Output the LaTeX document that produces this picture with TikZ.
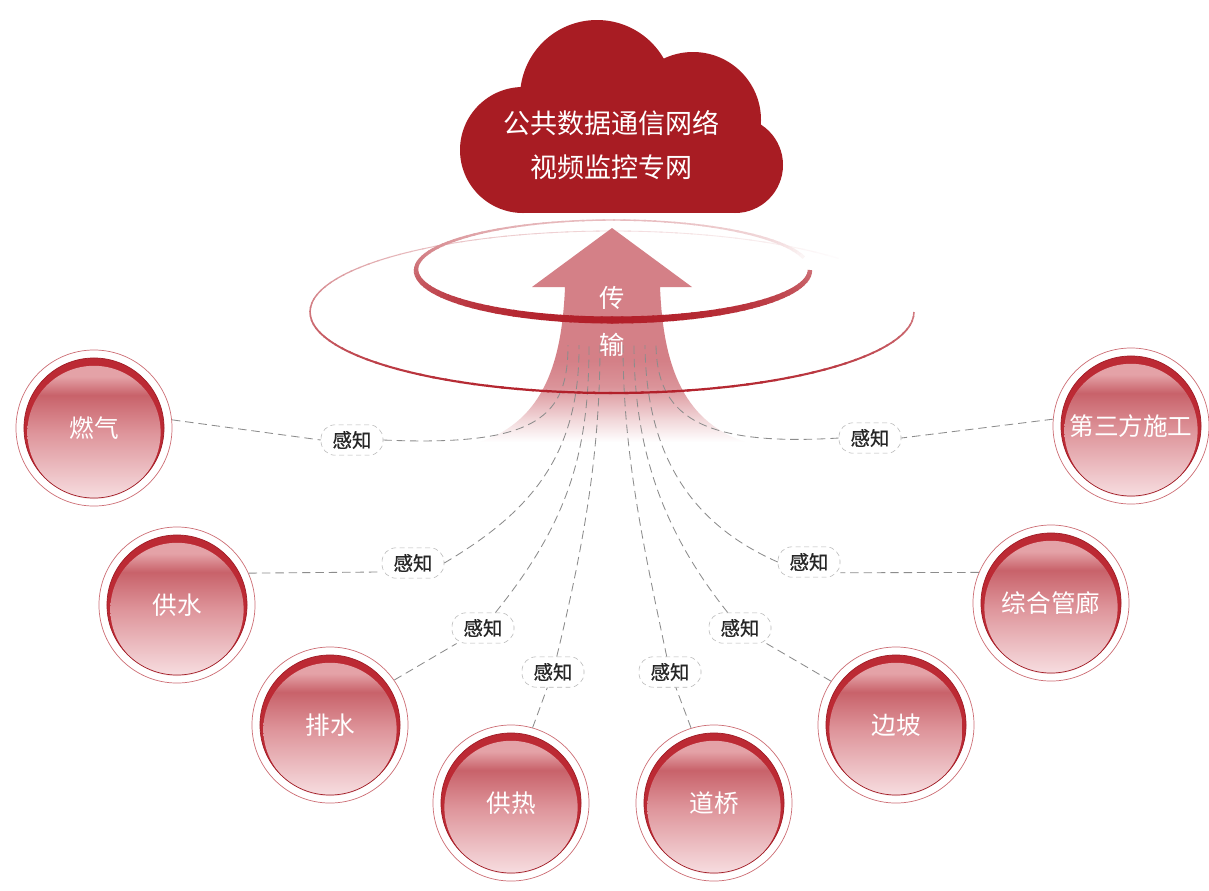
\documentclass[tikz,border=0pt]{standalone}
\usepackage{fontspec}
\setmainfont{Noto Sans CJK SC}
\newfontfamily\sensefont{Noto Sans CJK SC}[FakeBold=0.8]
\usepackage{xcolor}
\usetikzlibrary{calc}

\definecolor{cloudred}{RGB}{168,28,35}
\definecolor{ringred}{RGB}{178,32,42}
\definecolor{arrowpink}{RGB}{212,128,135}
\definecolor{discred}{RGB}{188,42,52}
\definecolor{faceT}{RGB}{200,98,106}
\definecolor{faceH}{RGB}{228,162,167}
\definecolor{faceM}{RGB}{222,148,154}
\definecolor{faceB}{RGB}{247,222,225}

\pgfdeclareverticalshading{arrowfade}{100bp}{color(0bp)=(white); color(25bp)=(white); color(30bp)=(arrowpink!30!white); color(38bp)=(arrowpink!85!white); color(44bp)=(arrowpink); color(100bp)=(arrowpink)}
\pgfdeclareverticalshading{discface}{100bp}{color(0bp)=(faceB); color(25bp)=(faceB); color(50bp)=(faceM); color(64bp)=(faceT); color(71bp)=(faceH); color(75bp)=(faceH); color(100bp)=(faceH)}

\begin{document}
\begin{tikzpicture}[x=0.025cm,y=-0.025cm,
    bubble/.style={circle,minimum size=3.9cm,inner sep=0pt,fill=white,
        draw=ringred!65,line width=0.5pt,text=white,
        font=\fontsize{17.5}{18}\selectfont,
        path picture={
            \fill[discred] (path picture bounding box.center) circle (1.75cm);
            \shade[shading=discface] ([yshift=-0.11cm]path picture bounding box.center) circle (1.665cm);
            \draw[ringred!90!black,line width=0.5pt] (path picture bounding box.center) circle (1.75cm);
        }},
    sense/.style={draw=black!28,dash pattern=on 3.5pt off 2.5pt,fill=white,
        rounded corners=10pt,minimum width=1.55cm,minimum height=0.76cm,
        inner sep=0pt,text=black!85,font=\sensefont\fontsize{13.8}{14}\selectfont},
    link/.style={draw=black!45,dash pattern=on 6pt off 3.5pt,line width=0.6pt}]

\path[use as bounding box,fill=white] (0,0) rectangle (1209,890);

% rings, back halves
\foreach \a in {180,183,...,315} {
    \pgfmathsetmacro\pct{(20+40*(1+sin(\a)))*min(1,(318-\a)/60)}
    \pgfmathsetmacro\w{0.6+0.5*(1+sin(\a))}
    \draw[ringred!\pct!white,line width=\w pt] ({612+302*cos(\a)},{312+81*sin(\a)})
        arc[start angle=\a,end angle=\a+3.6,x radius=302,y radius=81];
}
\foreach \a in {180,183,...,342} {
    \pgfmathsetmacro\pct{(30+35*(1+sin(\a)))*min(1,(348-\a)/70)}
    \pgfmathsetmacro\w{1+2*(1+sin(\a))}
    \draw[ringred!\pct!white,line width=\w pt] ({613+197*cos(\a)},{270+50*sin(\a)})
        arc[start angle=\a,end angle=\a+3.6,x radius=197,y radius=50];
}

\shade[shading=arrowfade] (612,228) -- (692,287) -- (660,287)
    .. controls (663,360) and (680,420) .. (745,442) -- (480,442)
    .. controls (545,420) and (562,360) .. (565,287) -- (532,287) -- cycle;

\node[bubble] (gas) at (94,428) {燃气};
\node[bubble] (water) at (177,605) {供水};
\node[bubble] (drain) at (330,725) {排水};
\node[bubble] (heat) at (511,803) {供热};
\node[bubble] (bridge) at (714,803) {道桥};
\node[bubble] (slope) at (896,725) {边坡};
\node[bubble] (tunnel) at (1051,603) {综合管廊};
\node[bubble] (third) at (1131,426) {第三方施工};

\node[sense] (lgas) at (352,440) {感知};
\node[sense] (lwater) at (413,563) {感知};
\node[sense] (ldrain) at (483,628) {感知};
\node[sense] (lheat) at (553,672) {感知};
\node[sense] (lbridge) at (670,672) {感知};
\node[sense] (lslope) at (740,628) {感知};
\node[sense] (ltunnel) at (809,562) {感知};
\node[sense] (lthird) at (870,438) {感知};

\coordinate (tgas) at (568,345);
\coordinate (twater) at (579,345);
\coordinate (tdrain) at (589,345);
\coordinate (theat) at (600,345);
\coordinate (tbridge) at (623,345);
\coordinate (tslope) at (634,345);
\coordinate (ttunnel) at (645,345);
\coordinate (tthird) at (656,345);

\draw[link] (gas.6) -- (lgas.west);
\draw[link] (water.24) -- (lwater.196);
\draw[link] (drain.35) -- (ldrain);
\draw[link] (heat.74) -- (lheat);
\draw[link] (bridge.107) -- (lbridge);
\draw[link] (slope.146) -- (lslope);
\draw[link] (tunnel.157) -- (ltunnel.-19);
\draw[link] (third.175) -- (lthird.east);

\draw[link] (lgas.east) .. controls (540,447) and (568,415) .. (tgas);
\draw[link] (lwater.east) .. controls (525,515) and (580,460) .. (twater);
\draw[link] (ldrain) .. controls (570,520) and (589,450) .. (tdrain);
\draw[link] (lheat) .. controls (585,540) and (600,450) .. (theat);
\draw[link] (lbridge) .. controls (642,540) and (623,450) .. (tbridge);
\draw[link] (lslope) .. controls (670,540) and (634,460) .. (tslope);
\draw[link] (ltunnel.west) .. controls (705,530) and (646,470) .. (ttunnel);
\draw[link] (lthird.west) .. controls (695,447) and (657,412) .. (tthird);

% rings, front halves
\foreach \a in {0,3,...,177} {
    \pgfmathsetmacro\pct{20+40*(1+sin(\a))}
    \pgfmathsetmacro\w{0.6+0.5*(1+sin(\a))}
    \draw[ringred!\pct!white,line width=\w pt] ({612+302*cos(\a)},{312+81*sin(\a)})
        arc[start angle=\a,end angle=\a+3.6,x radius=302,y radius=81];
}
\foreach \a in {0,3,...,177} {
    \pgfmathsetmacro\pct{30+35*(1+sin(\a))}
    \pgfmathsetmacro\w{1.4+1.8*(1+sin(\a))}
    \draw[ringred!\pct!white,line width=\w pt] ({613+197*cos(\a)},{270+50*sin(\a)})
        arc[start angle=\a,end angle=\a+3.6,x radius=197,y radius=50];
}

\node[text=white,font=\fontsize{18}{18}\selectfont] (chuan) at (612,298) {传};
\node[text=white,font=\fontsize{18}{18}\selectfont] (shu) at (612,345) {输};

\fill[cloudred] (523,150) circle (63) (597,97) circle (77) (693,120) circle (68) (735,165) circle (48);
\fill[cloudred] (523,130) rectangle (735,213);
\node[text=white,align=center,font=\fontsize{19.2}{31}\selectfont] (net) at (611,145)
    {公共数据通信网络\\视频监控专网};
\end{tikzpicture}
\end{document}
